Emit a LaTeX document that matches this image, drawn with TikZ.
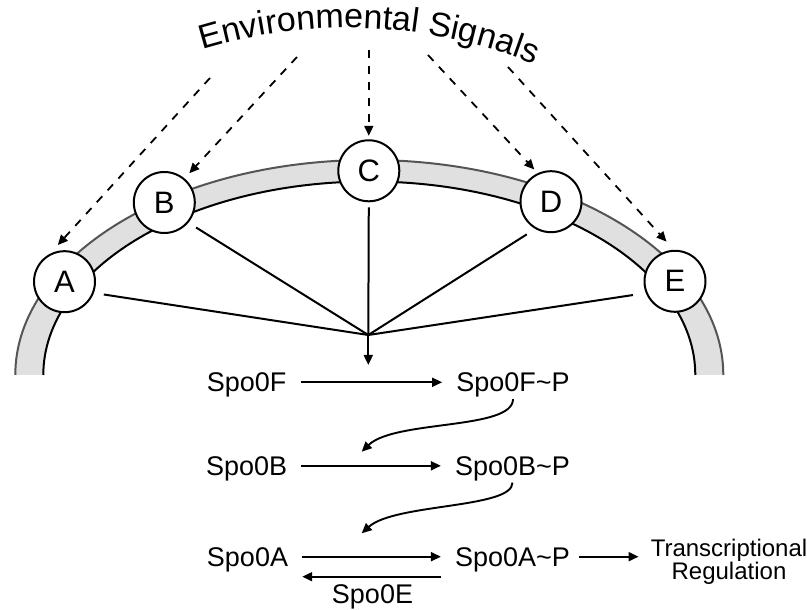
\documentclass[tikz,border=0pt]{standalone}
\usepackage{fontspec}
\setmainfont{Liberation Sans}
\usetikzlibrary{arrows.meta,decorations.text,calc}
\newcommand\envfont{\fontsize{34}{38}\selectfont}
\definecolor{bandfill}{HTML}{E0E0E0}
\definecolor{bandedge}{HTML}{555555}
\begin{document}
\begin{tikzpicture}[x=1pt,y=1pt,
  sig/.style={circle,draw=black,fill=white,line width=2pt,minimum size=61pt,inner sep=0pt,font=\fontsize{31}{36}\selectfont},
  lbl/.style={inner sep=3pt,font=\fontsize{27}{30}\selectfont,text height=19.3pt,text depth=0pt},
  conn/.style={line width=2pt},
  arr/.style={line width=1.9pt,-{Triangle[length=10pt,width=9pt]}},
  sigarr/.style={line width=1.8pt,dash pattern=on 8pt off 8pt,-{Triangle[length=10pt,width=9pt]}},
]
\useasboundingbox (0,0) rectangle (807,610);
% membrane band
\fill[bandfill] (15.3,235) arc[start angle=180,end angle=0,x radius=354,y radius=215]
  -- (695.3,235) arc[start angle=0,end angle=180,x radius=326,y radius=193.5] -- cycle;
\draw[bandedge,line width=2pt] (15.3,235) arc[start angle=180,end angle=0,x radius=354,y radius=215];
\draw[black,line width=2pt] (43.3,235) arc[start angle=180,end angle=0,x radius=326,y radius=193.5];

% curved title
\path[decorate,decoration={text along path,text={|\envfont|Environmental Signals},text align=center}]
  (194.1,557.6) arc[start angle=108,end angle=67,radius=498];

% sensor circles
\node[sig] (A) at (64.5,328.3) {A};
\node[sig] (B) at (164.3,407.5) {B};
\node[sig] (C) at (368.8,439.2) {C};
\node[sig] (D) at (551,408.3) {D};
\node[sig] (E) at (675,328.7) {E};

\coordinate (hub) at (368.3,275);
\coordinate (t0) at (368.3,245);
\coordinate (s1) at (210,532);
\coordinate (s2) at (297,553);
\coordinate (s3) at (368.8,560);
\coordinate (s4) at (428,555);
\coordinate (s5) at (508,543);

% signals
\draw[sigarr,shorten >=12pt] (s1) -- (A.118);
\draw[sigarr,shorten >=7pt] (s2) -- (B.50);
\draw[sigarr,shorten >=3.5pt] (s3) -- (C.north);
\draw[sigarr,shorten >=5pt] (s4) -- (D.115);
\draw[sigarr,shorten >=11pt] (s5) -- (E.92);

% converging lines
\draw[conn,shorten <=10pt] (A.-21) -- (hub);
\draw[conn,shorten <=9pt] (B.-40) -- (hub);
\draw[conn,shorten <=5pt] (C.south) -- (hub);
\draw[conn,shorten <=10pt] (D.-120) -- (hub);
\draw[conn,shorten <=13pt] (E.-158.5) -- (hub);
\draw[arr] (hub) -- (t0);

% phosphorelay
\node[lbl] (F) at (246.7,227.7) {Spo0F};
\node[lbl] (FP) at (513,227.7) {Spo0F\textasciitilde P};
\node[lbl] (B0) at (246.7,144.2) {Spo0B};
\node[lbl] (BP) at (512.5,144.2) {Spo0B\textasciitilde P};
\node[lbl] (A0) at (247.5,53.3) {Spo0A};
\node[lbl] (AP) at (512.5,53.3) {Spo0A\textasciitilde P};
\node[lbl] (E0) at (372.5,16) {Spo0E};
\node[font=\fontsize{24}{22}\selectfont,align=center,inner sep=3pt] (TR) at (729,48.5) {Transcriptional\\Regulation};

\coordinate (t1) at (361.7,158.3);
\coordinate (t2) at (361.7,76.7);

\draw[arr,shorten <=11pt,shorten >=11pt] (F) -- (FP);
\draw[arr,shorten <=11pt,shorten >=11pt] (B0) -- (BP);
\draw[arr,shorten <=11pt,shorten >=11pt] (A0) -- (AP);
\draw[arr,shorten <=11pt,shorten >=11pt] ([yshift=-20pt]AP.west) -- ([yshift=-20pt]A0.east);
\draw[arr,shorten <=6pt,shorten >=9pt] (AP.east) -- (AP.east -| TR.west);

\draw[arr,shorten <=4pt] (FP.south) .. controls +(0,-35) and +(33,32) .. (t1);
\draw[arr,shorten <=4pt] (BP.south) .. controls +(0,-30) and +(33,30) .. (t2);
\end{tikzpicture}
\end{document}
